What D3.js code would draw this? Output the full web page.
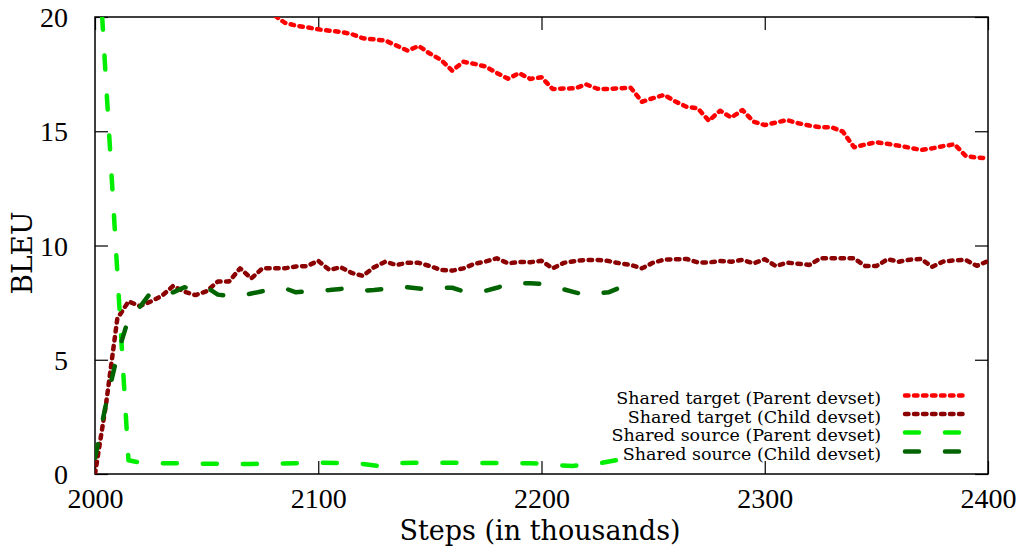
<!DOCTYPE html>
<html><head><meta charset="utf-8">
<script src="https://cdn.jsdelivr.net/npm/d3@7"></script>
<style>body{margin:0;background:#fff}svg{display:block}</style>
</head><body><svg id="c" width="1024" height="553"></svg>
<script>
// ---- data ----
const xTicks = [2000, 2100, 2200, 2300, 2400];
const yTicks = [0, 5, 10, 15, 20];
const seriesNames = ["Shared target (Parent devset)", "Shared target (Child devset)", "Shared source (Parent devset)", "Shared source (Child devset)"];

const tgtParentSteps = [2070,2075,2080,2085,2090,2095,2100,2105,2110,2115,2120,2125,2130,2135,2140,2145,2150,2155,2160,2165,2170,2175,2180,2185,2190,2195,2200,2205,2210,2215,2220,2225,2230,2235,2240,2245,2250,2255,2260,2265,2270,2275,2280,2285,2290,2295,2300,2305,2310,2315,2320,2325,2330,2335,2340,2345,2350,2355,2360,2365,2370,2375,2380,2385,2390,2395,2400];
const tgtParentBleu = [20.6,20.4,20.1,19.75,19.62,19.55,19.46,19.4,19.35,19.25,19.07,19.02,18.97,18.75,18.53,18.73,18.4,18.12,17.65,18.04,17.95,17.83,17.55,17.3,17.54,17.29,17.36,16.85,16.87,16.88,17.05,16.86,16.85,16.88,16.9,16.29,16.45,16.59,16.3,16.07,16.0,15.46,15.9,15.6,15.93,15.42,15.27,15.38,15.49,15.35,15.25,15.17,15.17,14.98,14.3,14.42,14.52,14.45,14.37,14.28,14.18,14.25,14.35,14.43,13.92,13.85,13.82];

const tgtChildSteps = [2000,2005,2010,2015,2020,2025,2030,2035,2040,2045,2050,2055,2060,2065,2070,2075,2080,2085,2090,2095,2100,2105,2110,2115,2120,2125,2130,2135,2140,2145,2150,2155,2160,2165,2170,2175,2180,2185,2190,2195,2200,2205,2210,2215,2220,2225,2230,2235,2240,2245,2250,2255,2260,2265,2270,2275,2280,2285,2290,2295,2300,2305,2310,2315,2320,2325,2330,2335,2340,2345,2350,2355,2360,2365,2370,2375,2380,2385,2390,2395,2400];
const tgtChildBleu = [0,3.1,6.8,7.55,7.35,7.55,7.8,8.23,7.98,7.83,8.0,8.42,8.42,9.0,8.56,9.0,9.0,9.0,9.08,9.1,9.33,8.93,9.05,8.8,8.67,9.05,9.29,9.15,9.24,9.24,9.1,8.93,8.9,9.0,9.2,9.3,9.44,9.22,9.28,9.27,9.33,9.0,9.24,9.32,9.37,9.37,9.32,9.22,9.15,9.0,9.25,9.38,9.4,9.41,9.26,9.26,9.32,9.29,9.37,9.22,9.4,9.1,9.25,9.2,9.15,9.44,9.44,9.44,9.44,9.1,9.1,9.4,9.29,9.38,9.41,9.07,9.3,9.35,9.37,9.11,9.32];

const srcParentSteps = [2000,2015,2020,2030,2040,2050,2060,2070,2080,2090,2100,2110,2120,2127,2135,2145,2155,2165,2175,2185,2195,2202,2208,2214,2220,2226,2234];
const srcParentBleu = [25.3,0.6,0.5,0.47,0.47,0.45,0.44,0.44,0.46,0.47,0.5,0.48,0.44,0.35,0.48,0.49,0.49,0.49,0.48,0.48,0.47,0.44,0.38,0.35,0.42,0.47,0.61];

const srcChildSteps = [2000,2005,2010,2015,2020,2025,2030,2035,2040,2045,2050,2055,2060,2065,2070,2075,2080,2085,2090,2095,2100,2105,2110,2115,2120,2125,2130,2135,2140,2145,2150,2155,2160,2165,2170,2175,2180,2185,2190,2195,2200,2205,2210,2215,2220,2225,2230,2235,2240];
const srcChildBleu = [0.7,3.1,5.2,6.8,7.3,7.95,7.9,7.95,8.17,8.1,8.17,7.85,7.8,7.8,7.9,8.0,8.1,8.13,7.95,8.0,8.02,8.05,8.1,8.13,8.02,8.05,8.1,8.13,8.17,8.12,8.08,8.15,8.15,8.0,7.98,8.02,8.15,8.32,8.35,8.35,8.32,8.25,8.08,7.95,7.83,7.9,7.95,8.15,8.35];

// ---- layout ----
const svg = d3.select("#c");
const L = 95, R = 988, T = 17, B = 474;
const x = d3.scaleLinear().domain([2000, 2400]).range([L, R]);
const y = d3.scaleLinear().domain([0, 20]).range([B, T]);

const series = [
  {name: seriesNames[0], steps: tgtParentSteps, vals: tgtParentBleu, color: "#ff0000", dash: "3.5,5.5", width: 4.5},
  {name: seriesNames[1], steps: tgtChildSteps, vals: tgtChildBleu, color: "#8b0000", dash: "3.5,5.5", width: 4.5},
  {name: seriesNames[2], steps: srcParentSteps, vals: srcParentBleu, color: "#00ee00", dash: "14,26", width: 4.5},
  {name: seriesNames[3], steps: srcChildSteps, vals: srcChildBleu, color: "#006400", dash: "14,26", width: 4.5}
];

svg.append("defs").append("clipPath").attr("id", "clip")
  .append("rect").attr("x", L).attr("y", T).attr("width", R - L).attr("height", B - T);

// frame
svg.append("rect").attr("x", L).attr("y", T).attr("width", R - L).attr("height", B - T)
  .attr("fill", "none").attr("stroke", "#000").attr("stroke-width", 1.5);

const tickLen = 13;
// axes (inward ticks, mirrored)
const fontTick = "'Liberation Serif', serif";
const gxB = svg.append("g").attr("transform", `translate(0,${B})`)
  .call(d3.axisBottom(x).tickValues(xTicks).tickSize(-tickLen).tickPadding(tickLen + 6).tickFormat(d3.format("d")));
const gxT = svg.append("g").attr("transform", `translate(0,${T})`)
  .call(d3.axisTop(x).tickValues(xTicks).tickSize(-tickLen).tickFormat(""));
const gyL = svg.append("g").attr("transform", `translate(${L},0)`)
  .call(d3.axisLeft(y).tickValues(yTicks).tickSize(-tickLen).tickPadding(tickLen + 14));
const gyR = svg.append("g").attr("transform", `translate(${R},0)`)
  .call(d3.axisRight(y).tickValues(yTicks).tickSize(-tickLen).tickFormat(""));
[gxB, gxT, gyL, gyR].forEach(g => {
  g.select(".domain").remove();
  g.selectAll(".tick line").attr("stroke", "#000").attr("stroke-width", 1.2);
  g.selectAll("text").attr("font-family", fontTick).attr("font-size", 28).attr("fill", "#000");
});
gxB.selectAll(".tick text").attr("dy", "0.55em");
gyL.selectAll(".tick text").attr("dy", "0.34em");

// lines
const line = d3.line().x(d => x(d[0])).y(d => y(d[1]));
const plot = svg.append("g").attr("clip-path", "url(#clip)");
series.forEach(s => {
  const pts = s.steps.map((st, i) => [st, s.vals[i]]);
  plot.append("path").datum(pts).attr("d", line)
    .attr("fill", "none").attr("stroke", s.color).attr("stroke-width", s.width)
    .attr("stroke-dasharray", s.dash).attr("stroke-linecap", "round").attr("stroke-linejoin", "round");
});

// axis titles
const fontTitle = "'DejaVu Serif', serif";
svg.append("text").attr("x", 540).attr("y", 540).attr("text-anchor", "middle")
  .attr("font-family", fontTitle).attr("font-size", 27).attr("fill", "#000").text("Steps (in thousands)");
svg.append("text").attr("transform", "translate(32,253) rotate(-90)").attr("text-anchor", "middle")
  .attr("font-family", fontTitle).attr("font-size", 28).attr("fill", "#000").text("BLEU");

// legend
const legY = [398, 416.5, 435, 454];
const leg = svg.append("g");
series.forEach((s, i) => {
  leg.append("text").attr("x", 881).attr("y", legY[i]).attr("dy", "0.35em").attr("text-anchor", "end")
    .attr("font-family", fontTitle).attr("font-size", 17.5).attr("fill", "#000").text(s.name);
  leg.append("line").attr("x1", 905).attr("x2", 965).attr("y1", legY[i] - 2.5).attr("y2", legY[i] - 2.5)
    .attr("stroke", s.color).attr("stroke-width", s.width).attr("stroke-dasharray", s.dash)
    .attr("stroke-linecap", "round");
});
</script></body></html>
